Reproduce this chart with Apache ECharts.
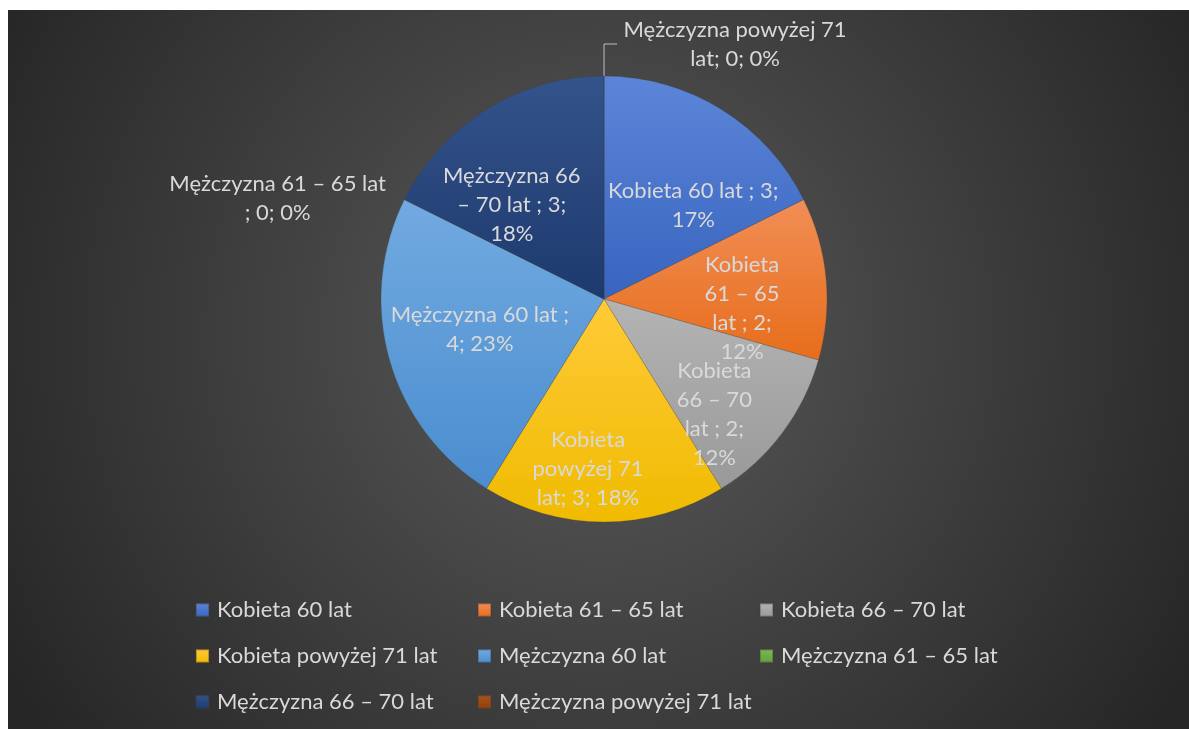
<!DOCTYPE html>
<html>
<head>
<meta charset="utf-8">
<title>Pie</title>
<script src="https://cdn.jsdelivr.net/npm/echarts@6/dist/echarts.min.js"></script>
<style>
  html, body { margin: 0; padding: 0; background: #fff; }
  #chart { position: absolute; left: 8px; top: 10px; width: 1181px; height: 719px; }
</style>
</head>
<body>
<div id="chart"></div>
<script>
// dane z wykresu
const categories = [
  'Kobieta 60 lat', 'Kobieta 61 – 65 lat', 'Kobieta 66 – 70 lat', 'Kobieta powyżej 71 lat',
  'Mężczyzna 60 lat', 'Mężczyzna 61 – 65 lat', 'Mężczyzna 66 – 70 lat', 'Mężczyzna powyżej 71 lat'
];
const values = [3, 2, 2, 3, 4, 0, 3, 0];
const percents = ['17%', '12%', '12%', '18%', '23%', '0%', '18%', '0%'];
// etykiety tak, jak są złamane w oryginale
const labelTexts = [
  ['Kobieta 60 lat ; 3;', '17%'],
  ['Kobieta', '61 – 65', 'lat ; 2;', '12%'],
  ['Kobieta', '66 – 70', 'lat ; 2;', '12%'],
  ['Kobieta', 'powyżej 71', 'lat; 3; 18%'],
  ['Mężczyzna 60 lat ;', '4; 23%'],
  ['Mężczyzna 61 – 65 lat', '; 0; 0%'],
  ['Mężczyzna 66', '– 70 lat ; 3;', '18%'],
  ['Mężczyzna powyżej 71', 'lat; 0; 0%']
];

const topColors = ['#5b86d8', '#f18e56', '#b4b4b4', '#ffca38', '#72aae0', '#7cb955', '#34538b', '#a9541a'];
const bottomColors = ['#3964bf', '#e76d1b', '#999999', '#f0bb00', '#4a8dcf', '#62a03c', '#1d3a6e', '#8f3f0a'];

// przesunięcia etykiet wewnętrznych
const nudges = [[29, 4], [24, 20], [19, 46], [-16, 55], [-14, -1], null, [-32, 3], null];

const txtColor = '#d9d9d9';
const font = 'Lato';

const chart = echarts.init(document.getElementById('chart'));

const pieData = categories.map((name, i) => {
  const item = {
    name: name,
    value: values[i],
    itemStyle: {
      color: new echarts.graphic.LinearGradient(0, 0, 0, 1, [
        { offset: 0, color: topColors[i] },
        { offset: 1, color: bottomColors[i] }
      ])
    }
  };
  if (values[i] === 0) {
    item.label = {
      position: 'outside',
      formatter: () => labelTexts[i].map(s => '{c|' + s + '}').join('\n'),
      rich: { c: { width: i === 5 ? 240 : 226, align: 'center', color: txtColor, fontSize: 22, fontFamily: font, lineHeight: 29 } }
    };
    item.labelLine = i === 7
      ? { show: true, length: 32, length2: 13, smooth: false, lineStyle: { color: '#bfbfbf', width: 1 } }
      : { show: false, length: 2, length2: 0 };
  }
  return item;
});

chart.setOption({
  animation: false,
  backgroundColor: {
    type: 'radial', x: 0.5, y: 0.45, r: 0.95,
    colorStops: [{ offset: 0, color: '#5a5a5a' }, { offset: 1, color: '#262626' }]
  },
  legend: {
    data: categories,
    left: 182,
    top: 575,
    width: 870,
    orient: 'horizontal',
    icon: 'rect',
    itemWidth: 13,
    itemHeight: 13,
    itemGap: 6,
    textStyle: { color: txtColor, fontSize: 22, fontFamily: font, width: 254, lineHeight: 40, padding: [0, 0, 0, 3] }
  },
  series: [{
    type: 'pie',
    center: [596, 289],
    radius: 223,
    startAngle: 89.99,
    clockwise: true,
    avoidLabelOverlap: false,
    minShowLabelAngle: 0,
    itemStyle: { borderColor: 'rgba(60,60,60,0.35)', borderWidth: 0.6 },
    label: {
      show: true,
      position: 'inside',
      color: txtColor,
      fontSize: 22,
      fontFamily: font,
      lineHeight: 29,
      align: 'center',
      formatter: p => labelTexts[p.dataIndex].join('\n')
    },
    labelLayout: p => {
      const n = nudges[p.dataIndex];
      return n ? { dx: n[0], dy: n[1] } : {};
    },
    emphasis: { disabled: true },
    data: pieData
  }]
});
</script>
</body>
</html>
